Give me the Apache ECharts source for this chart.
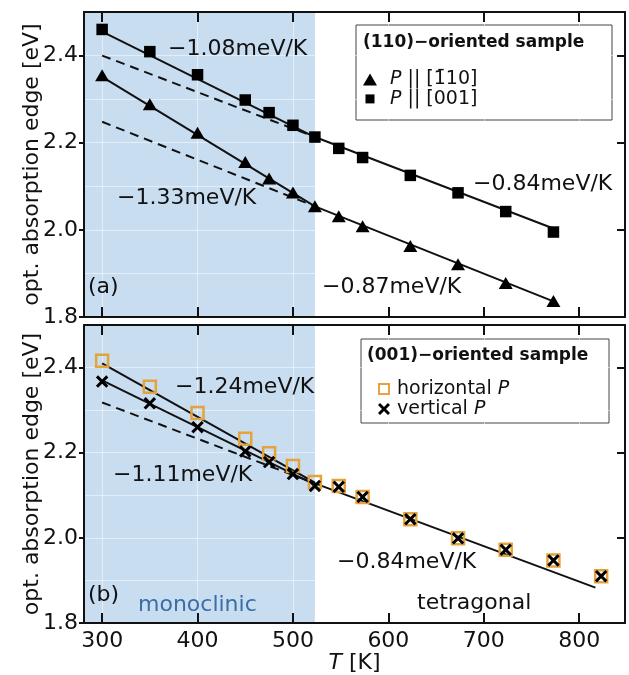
<!DOCTYPE html>
<html>
<head>
<meta charset="utf-8">
<script src="https://cdn.jsdelivr.net/npm/echarts@6/dist/echarts.min.js"></script>
<style>
  html, body { margin: 0; padding: 0; background: #fff; }
  #chart { width: 629px; height: 675px; }
</style>
</head>
<body>
<div id="chart"></div>
<script>
// temperatures [K]
const tempsA = [300, 350, 400, 450, 475, 500, 523, 548, 573, 623, 673, 723, 773]
const tempsB = [300, 350, 400, 450, 475, 500, 523, 548, 573, 623, 673, 723, 773, 823]

// (110)-oriented sample, absorption edge [eV]
const edgeTri = [2.355, 2.288, 2.223, 2.156, 2.118, 2.086, 2.054, 2.031, 2.008, 1.963, 1.921, 1.878, 1.837]
const edgeSq = [2.460, 2.409, 2.356, 2.298, 2.269, 2.240, 2.213, 2.187, 2.166, 2.125, 2.085, 2.042, 1.995]

// (001)-oriented sample
const edgeHor = [2.416, 2.355, 2.293, 2.233, 2.199, 2.169, 2.131, 2.122, 2.096, 2.044, 1.999, 1.972, 1.947, 1.910]
const edgeVer = [2.367, 2.316, 2.260, 2.203, 2.178, 2.150, 2.122, 2.120, 2.096, 2.044, 1.999, 1.972, 1.947, 1.910]

// linear fits [T, E]
const fitSqMono = [[300, 2.455], [523, 2.213]]
const fitSqTetra = [[523, 2.213], [773, 2.003]]
const fitSqExtra = [[300, 2.400], [523, 2.213]]
const fitTriMono = [[300, 2.351], [523, 2.054]]
const fitTriTetra = [[523, 2.054], [773, 1.836]]
const fitTriExtra = [[300, 2.248], [523, 2.054]]
const fitHorMono = [[300, 2.410], [523, 2.130]]
const fitVerMono = [[300, 2.370], [523, 2.125]]
const fitBTetra = [[523, 2.128], [817, 1.883]]
const fitBExtra = [[300, 2.318], [523, 2.128]]

const phaseT = 523
const xMin = 281
const xMax = 848
const yMin = 1.8
const yMax = 2.5
const yTicks = 0.2

const legendNamesA = ['P || [1\u030410]', 'P || [001]']
const legendNamesB = ['horizontal P', 'vertical P']

const FONT = 'DejaVu Sans'
const INK = '#111'
const ORANGE = '#e5a33b'
const X_PATH = 'path://M0,1.7L1.7,0L5,3.3L8.3,0L10,1.7L6.7,5L10,8.3L8.3,10L5,6.7L1.7,10L0,8.3L3.3,5Z'

const chart = echarts.init(document.getElementById('chart'))

const zip = (xs, ys) => xs.map((x, i) => [x, ys[i]])

function xAxisFor(gridIndex, position, showLabels) {
  const ax = {
    type: 'value', gridIndex, position, min: xMin, max: xMax, z: 1,
    axisLine: { show: true, onZero: false, lineStyle: { color: INK, width: 2 } },
    axisTick: { show: true, inside: true, length: 10, lineStyle: { color: INK, width: 2 } },
    axisLabel: {
      show: showLabels, showMinLabel: false, showMaxLabel: false, margin: 7,
      color: INK, fontFamily: FONT, fontSize: 22
    },
    splitLine: { show: position === 'bottom', lineStyle: { color: 'rgba(255,255,255,0.5)', width: 1 } }
  }
  if (showLabels) {
    ax.name = '{i|T} [K]'
    ax.nameLocation = 'middle'
    ax.nameGap = 29
    ax.nameMoveOverlap = false
    ax.nameTextStyle = {
      color: INK, fontFamily: FONT, fontSize: 22,
      rich: { i: { fontStyle: 'italic', fontFamily: FONT, fontSize: 22, color: INK } }
    }
  }
  return ax
}

function yAxesFor(gridIndex) {
  const base = { type: 'value', gridIndex, min: yMin, max: yMax, z: 1 }
  return [
    Object.assign({}, base, {
      position: 'left', interval: yTicks,
      name: 'opt. absorption edge [eV]', nameLocation: 'middle', nameGap: 41, nameMoveOverlap: false,
      nameTextStyle: { color: INK, fontFamily: FONT, fontSize: 22 },
      axisLine: { show: true, onZero: false, lineStyle: { color: INK, width: 2 } },
      axisTick: { show: true, inside: false, length: 5, lineStyle: { color: INK, width: 2 } },
      axisLabel: {
        showMaxLabel: false, margin: 6, color: INK, fontFamily: FONT, fontSize: 22,
        formatter: v => v.toFixed(1)
      },
      splitLine: { show: false }
    }),
    Object.assign({}, base, {
      position: 'right', interval: yTicks,
      axisLine: { show: true, onZero: false, lineStyle: { color: INK, width: 2 } },
      axisTick: { show: true, inside: true, length: 8, lineStyle: { color: INK, width: 2 } },
      axisLabel: { show: false },
      splitLine: { show: false }
    }),
    // faint grid every 0.1 eV
    Object.assign({}, base, {
      position: 'left', interval: 0.1,
      axisLine: { show: false }, axisTick: { show: false }, axisLabel: { show: false },
      splitLine: { show: true, lineStyle: { color: 'rgba(255,255,255,0.5)', width: 1 } }
    })
  ]
}

function fit(data, xi, yi, dashed) {
  return {
    type: 'line', data, xAxisIndex: xi, yAxisIndex: yi, symbol: 'none', silent: true, z: 2,
    lineStyle: { color: INK, width: 2, type: dashed ? [9, 6] : 'solid' }
  }
}

function shade(xi, yi) {
  return {
    type: 'line', data: [], xAxisIndex: xi, yAxisIndex: yi, silent: true,
    markArea: {
      silent: true, z: 0,
      itemStyle: { color: '#c9ddf1' },
      data: [[{ coord: [xMin, yMin] }, { coord: [phaseT, yMax] }]]
    }
  }
}

function label(text, x, y, extra) {
  return {
    type: 'text', x, y, z: 10,
    style: Object.assign({
      text, fontFamily: FONT, fontSize: 22, fill: INK, verticalAlign: 'middle'
    }, extra || {})
  }
}

const legendText = (size, lh) => ({
  color: INK, fontFamily: FONT, fontSize: size, lineHeight: lh,
  rich: { i: { fontStyle: 'italic', fontFamily: FONT, fontSize: size, lineHeight: lh, color: INK } }
})

const option = {
  animation: false,
  backgroundColor: '#fff',
  grid: [
    { left: 84, top: 12, width: 541, height: 305 },
    { left: 84, top: 325, width: 541, height: 299 }
  ],
  xAxis: [
    xAxisFor(0, 'bottom', false),
    xAxisFor(0, 'top', false),
    xAxisFor(1, 'bottom', true),
    xAxisFor(1, 'top', false)
  ],
  yAxis: [...yAxesFor(0), ...yAxesFor(1)],
  legend: [
    {
      orient: 'vertical', left: 363, top: 70, padding: 0, itemGap: 0.4, z: 20,
      itemWidth: 14, itemHeight: 12, selectedMode: false,
      data: [
        { name: legendNamesA[0], icon: 'path://M0,12L7,0L14,12Z' },
        { name: legendNamesA[1], icon: 'path://M0,0M14,12M2.5,1.5h9v9h-9z' }
      ],
      formatter: n => '{i|P}' + n.slice(1),
      textStyle: Object.assign(legendText(19, 18), { padding: [0, 0, 0, 8] })
    },
    {
      orient: 'vertical', left: 377, top: 379, padding: 0, itemGap: 0, z: 20,
      itemWidth: 12, itemHeight: 12, selectedMode: false,
      data: [
        { name: legendNamesB[0], icon: 'path://M0,0M12,12M1,1h10v10h-10z' },
        { name: legendNamesB[1], icon: X_PATH }
      ],
      formatter: n => n.slice(0, -1) + '{i|P}',
      textStyle: Object.assign(legendText(19, 20), { padding: [0, 0, 0, 2] })
    }
  ],
  graphic: [
    { type: 'rect', z: 1, shape: { x: 356, y: 25, width: 256, height: 95 }, style: { fill: 'none', stroke: '#444', lineWidth: 1 } },
    { type: 'rect', z: 1, shape: { x: 361, y: 339, width: 248, height: 84 }, style: { fill: 'none', stroke: '#444', lineWidth: 1 } },
    label('(110)\u2212oriented sample', 363, 43, { fontSize: 17, fontWeight: 'bold' }),
    label('(001)\u2212oriented sample', 367, 356, { fontSize: 17, fontWeight: 'bold' }),
    label('\u22121.08meV/K', 168, 49),
    label('\u22121.33meV/K', 117, 198),
    label('\u22120.84meV/K', 473, 184),
    label('\u22120.87meV/K', 322, 287),
    label('(a)', 88, 287),
    label('\u22121.24meV/K', 175, 387),
    label('\u22121.11meV/K', 113, 475),
    label('\u22120.84meV/K', 337, 562),
    label('(b)', 88, 595),
    label('monoclinic', 138, 605, { fill: '#3b6ea8' }),
    label('tetragonal', 417, 603)
  ],
  series: [
    shade(0, 0),
    shade(2, 3),
    fit(fitSqExtra, 0, 0, true),
    fit(fitTriExtra, 0, 0, true),
    fit(fitSqMono, 0, 0, false),
    fit(fitSqTetra, 0, 0, false),
    fit(fitTriMono, 0, 0, false),
    fit(fitTriTetra, 0, 0, false),
    {
      type: 'scatter', name: legendNamesA[0], xAxisIndex: 0, yAxisIndex: 0, z: 3,
      data: zip(tempsA, edgeTri), symbol: 'triangle', symbolSize: [14, 12],
      itemStyle: { color: '#000', opacity: 1 }
    },
    {
      type: 'scatter', name: legendNamesA[1], xAxisIndex: 0, yAxisIndex: 0, z: 3,
      data: zip(tempsA, edgeSq), symbol: 'rect', symbolSize: 11.5,
      itemStyle: { color: '#000', opacity: 1 }
    },
    fit(fitBExtra, 2, 3, true),
    fit(fitHorMono, 2, 3, false),
    fit(fitVerMono, 2, 3, false),
    fit(fitBTetra, 2, 3, false),
    {
      type: 'scatter', name: legendNamesB[0], xAxisIndex: 2, yAxisIndex: 3, z: 3,
      data: zip(tempsB, edgeHor), symbol: 'rect', symbolSize: 12,
      itemStyle: { color: 'rgba(0,0,0,0)', borderColor: ORANGE, borderWidth: 2.5, opacity: 1 }
    },
    {
      type: 'scatter', name: legendNamesB[1], xAxisIndex: 2, yAxisIndex: 3, z: 4,
      data: zip(tempsB, edgeVer), symbol: X_PATH, symbolSize: 12.5,
      itemStyle: { color: '#000', opacity: 1 }
    }
  ]
}

chart.setOption(option)
</script>
</body>
</html>
